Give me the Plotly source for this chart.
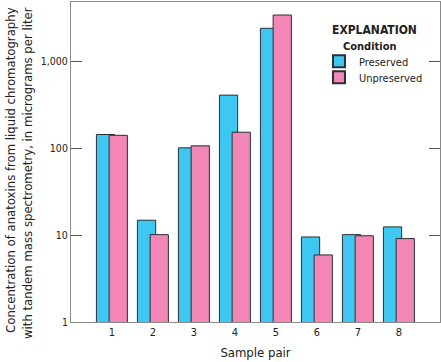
import plotly.graph_objects as go

pairs = [1, 2, 3, 4, 5, 6, 7, 8]
preserved = [143, 14.8, 100.5, 406, 2380, 9.5, 10.1, 12.4]
unpreserved = [140, 10.1, 106, 152, 3385, 5.9, 9.8, 9.1]
ytick_vals = [1, 10, 100, 1000]
ytick_text = ["1", "10", "100", "1,000"]

FONT = "DejaVu Sans Condensed, Liberation Sans Narrow, Arial Narrow, sans-serif"
BLUE = "#3ec8f1"
PINK = "#f287b6"
EDGE = "#2a2f35"
TXT = "#222"

fig = go.Figure()
fig.add_trace(go.Bar(x=pairs, y=preserved, name="Preserved", width=0.445, offset=-0.38,
                     legend="legend",
                     marker=dict(color=BLUE, line=dict(color=EDGE, width=1))))
fig.add_trace(go.Bar(x=pairs, y=unpreserved, name="Unpreserved", width=0.445, offset=-0.07,
                     legend="legend2",
                     marker=dict(color=PINK, line=dict(color=EDGE, width=1))))

leg_common = dict(xanchor="left", yanchor="middle",
                  font=dict(family=FONT, size=11, color=TXT),
                  bgcolor="rgba(0,0,0,0)", itemsizing="constant")

fig.update_layout(
    width=441, height=362,
    margin=dict(l=71, r=1, t=2, b=40, autoexpand=False),
    barmode="overlay",
    plot_bgcolor="white", paper_bgcolor="white",
    font=dict(family=FONT, size=11, color=TXT),
    showlegend=True,
    legend=dict(x=0.672, y=0.8145, **leg_common),
    legend2=dict(x=0.672, y=0.7645, **leg_common),
    xaxis=dict(range=[0, 9], tickvals=pairs, ticktext=[str(p) for p in pairs],
               showline=True, mirror=True, linecolor="#8a8a8a", linewidth=1,
               ticks="", showgrid=False, zeroline=False, automargin=False,
               tickfont=dict(family=FONT, size=11, color=TXT),
               title=dict(text="Sample pair", font=dict(family=FONT, size=13, color=TXT), standoff=9)),
    yaxis=dict(type="log", range=[0, 3.679], tickvals=ytick_vals, ticktext=ytick_text,
               showline=True, mirror="ticks", linecolor="#8a8a8a", linewidth=1,
               ticks="inside", ticklen=11, tickcolor="#555", tickwidth=1,
               showgrid=False, zeroline=False, automargin=False,
               tickfont=dict(family=FONT, size=10.5, color=TXT)),
    annotations=[
        dict(text="Concentration of anatoxins from liquid chromatography<br>with tandem mass spectrometry, in micrograms per liter",
             xref="paper", yref="paper", x=0, y=0.9906, xshift=-52, xanchor="center", yanchor="top",
             align="right", textangle=-90, showarrow=False,
             font=dict(family=FONT, size=13, color=TXT)),
        dict(text="<b>EXPLANATION</b>", xref="paper", yref="paper", x=0.823, y=0.912,
             xanchor="center", yanchor="middle", showarrow=False,
             font=dict(family=FONT, size=12, color=TXT)),
        dict(text="<b>Condition</b>", xref="paper", yref="paper", x=0.811, y=0.86,
             xanchor="center", yanchor="middle", showarrow=False,
             font=dict(family=FONT, size=11, color=TXT)),
    ],
)

fig.write_html("out.html", config={"displayModeBar": False},
               post_script="document.body.style.margin='0';")
